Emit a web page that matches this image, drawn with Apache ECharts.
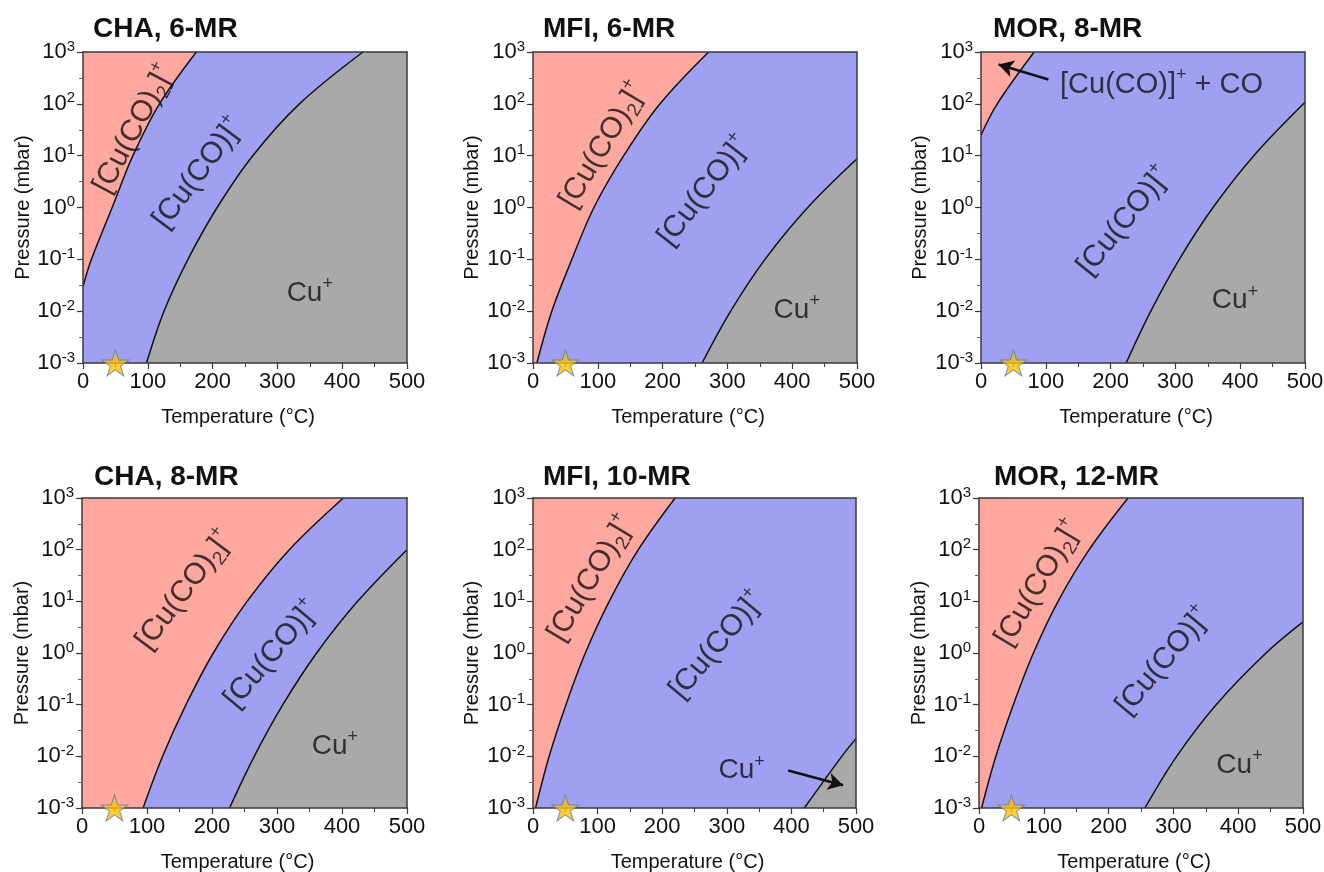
<!DOCTYPE html>
<html>
<head>
<meta charset="utf-8">
<script src="https://cdn.jsdelivr.net/npm/echarts@6/dist/echarts.min.js"></script>
<style>
  html, body { margin: 0; padding: 0; background: #fff; }
  #charts { width: 1324px; height: 872px; }
</style>
</head>
<body>
<div id="charts"></div>
<script>
// panel titles, reading order
const titles = ['CHA, 6-MR', 'MFI, 6-MR', 'MOR, 8-MR', 'CHA, 8-MR', 'MFI, 10-MR', 'MOR, 12-MR'];

// axis ticks
const tempTicks = [0, 100, 200, 300, 400, 500];
const pressureTicks = [0.001, 0.01, 0.1, 1, 10, 100, 1000];

// phase boundaries: [temperature (°C), pressure (mbar)]
// "upper" = [Cu(CO)2]+ / [Cu(CO)]+ , "lower" = [Cu(CO)]+ / Cu+
const cha6Upper = [[0, 0.03], [13, 0.1], [45, 1], [77, 10], [118, 100], [175, 1000]];
const cha6Lower = [[98, 0.001], [125, 0.01], [162, 0.1], [207, 1], [262, 10], [334, 100], [432, 1000]];
const mfi6Upper = [[6, 0.001], [29, 0.01], [60, 0.1], [94, 1], [140, 10], [196, 100], [271, 1000]];
const mfi6Lower = [[261, 0.001], [305, 0.01], [358, 0.1], [424, 1], [500, 8.7]];
const mor8Upper = [[0, 25], [25, 100], [82, 1000]];
const mor8Lower = [[224, 0.001], [262, 0.01], [306, 0.1], [358, 1], [421, 10], [500, 107]];
const cha8Upper = [[94, 0.001], [124, 0.01], [160, 0.1], [202, 1], [254, 10], [319, 100], [402, 1000]];
const cha8Lower = [[227, 0.001], [265, 0.01], [309, 0.1], [361, 1], [424, 10], [500, 100]];
const mfi10Upper = [[4, 0.001], [25, 0.01], [51, 0.1], [81, 1], [118, 10], [163, 100], [220, 1000]];
const mfi10Lower = [[420, 0.001], [478, 0.01], [500, 0.022]];
const mor12Upper = [[4, 0.001], [26, 0.01], [53, 0.1], [84, 1], [122, 10], [170, 100], [230, 1000]];
const mor12Lower = [[256, 0.001], [305, 0.01], [366, 0.1], [443, 1], [500, 4]];

// measurement condition marked with a star
const starPoint = [50, 0.001];

const FONT = '"Liberation Sans", Arial, sans-serif';
const INK = '#111';
const AXIS = '#3a3a3a';
const RED = '#FFA8A0';
const BLUE = '#A0A0F2';
const GRAY = '#A9A9A9';
const T_MIN = 0, T_MAX = 500, P_MIN = 0.001, P_MAX = 1000;

// half-decade minor ticks on the pressure axis
const halfDecades = pressureTicks.slice(1).map((v, k) => Math.sqrt(v * pressureTicks[k]));

const DI = '{n|[Cu(CO)}{sub|2}{n|]}{sup|+}';
const MONO = '{n|[Cu(CO)]}{sup|+}';
const BARE = '{h|Cu}{sup|+}';
const MONO_CO = '{m|[Cu(CO)]}{sup|+}{m| + CO}';

// layout + annotations per panel: [text, anchor, rotation, position]
const panels = [
  { upper: cha6Upper, lower: cha6Lower, box: [83, 52, 324, 311], titleAt: [93, 15], gap: 47,
    notes: [[DI, [79, 33], 62], [MONO, [178, 4.6], 53], [BARE, [350, 0.022], 0]] },
  { upper: mfi6Upper, lower: mfi6Lower, box: [533, 52, 324, 311], titleAt: [543, 15], gap: 51,
    notes: [[DI, [108, 16], 59], [MONO, [264, 2.1], 52], [BARE, [407, 0.0103], 0]] },
  { upper: mor8Upper, lower: mor8Lower, box: [981, 52, 324, 311], titleAt: [993, 15], gap: 51,
    notes: [[MONO_CO, [122, 236], 0, 'right'], [MONO, [221, 0.55], 51], [BARE, [392, 0.016], 0]],
    arrow: [[104, 295], [27, 575]] },
  { upper: cha8Upper, lower: cha8Lower, box: [82, 498, 325, 310], titleAt: [94, 463], gap: 49,
    notes: [[DI, [158, 16.6], 53], [MONO, [292, 0.95], 50], [BARE, [389, 0.016], 0]] },
  { upper: mfi10Upper, lower: mfi10Lower, box: [533, 498, 323, 310], titleAt: [543, 463], gap: 51,
    notes: [[DI, [90, 28], 59], [MONO, [285, 1.43], 50], [BARE, [323, 0.0053], 0]],
    arrow: [[395, 0.0053], [480, 0.00275]] },
  { upper: mor12Upper, lower: mor12Lower, box: [979, 498, 324, 310], titleAt: [994, 463], gap: 49,
    notes: [[DI, [92, 22.5], 59], [MONO, [285, 0.7], 50], [BARE, [402, 0.0067], 0]] }
];

const noteRich = {
  n: { fontSize: 30, lineHeight: 38, color: INK, fontFamily: FONT },
  m: { fontSize: 29, lineHeight: 36, color: INK, fontFamily: FONT },
  h: { fontSize: 28, lineHeight: 36, color: INK, fontFamily: FONT },
  sub: { fontSize: 19, lineHeight: 19, verticalAlign: 'bottom', color: INK, fontFamily: FONT },
  sup: { fontSize: 18, lineHeight: 20, verticalAlign: 'top', color: INK, fontFamily: FONT }
};

const starPath = 'path://M50,0 L61.23,34.55 L97.55,34.55 L68.16,55.9 L79.39,90.45 L50,69.1 L20.61,90.45 L31.84,55.9 L2.45,34.55 L38.77,34.55 Z';

const option = {
  animation: false,
  textStyle: { fontFamily: FONT },
  title: [], grid: [], xAxis: [], yAxis: [], series: []
};

panels.forEach((p, i) => {
  option.title.push({
    text: titles[i], left: p.titleAt[0], top: p.titleAt[1], padding: 0,
    textStyle: { fontSize: 28, fontWeight: 'bold', color: INK, fontFamily: FONT }
  });
  option.grid.push({
    left: p.box[0], top: p.box[1], width: p.box[2], height: p.box[3],
    show: true, backgroundColor: BLUE, borderWidth: 0, outerBoundsMode: 'none'
  });
  option.xAxis.push({
    type: 'value', gridIndex: i, min: T_MIN, max: T_MAX, interval: 100,
    name: 'Temperature (°C)', nameLocation: 'middle', nameGap: 44,
    nameTextStyle: { fontSize: 20, color: INK, padding: [0, 14, 0, 0] },
    axisLine: { show: true, onZero: false, lineStyle: { color: AXIS, width: 1.5 } },
    axisTick: { show: true, length: 6, customValues: tempTicks, lineStyle: { color: AXIS, width: 1.2 } },
    minorTick: { show: true, splitNumber: 2, length: 4, lineStyle: { color: AXIS, width: 1 } },
    splitLine: { show: false },
    axisLabel: { fontSize: 22, color: INK, margin: 8, customValues: tempTicks },
    z: 3
  });
  option.yAxis.push({
    type: 'log', logBase: 10, gridIndex: i, min: P_MIN, max: P_MAX,
    name: 'Pressure (mbar)', nameLocation: 'middle', nameGap: p.gap,
    nameTextStyle: { fontSize: 20, color: INK },
    axisLine: { show: true, onZero: false, lineStyle: { color: AXIS, width: 1.5 } },
    axisTick: { show: true, length: 6, customValues: pressureTicks, lineStyle: { color: AXIS, width: 1.2 } },
    minorTick: { show: false },
    splitLine: { show: false },
    axisLabel: {
      margin: 8, customValues: pressureTicks,
      formatter: v => '{b|10}{e|' + Math.round(Math.log10(v)) + '}',
      rich: {
        b: { fontSize: 22, lineHeight: 26, color: INK, fontFamily: FONT },
        e: { fontSize: 15, lineHeight: 16, verticalAlign: 'top', color: INK, fontFamily: FONT }
      }
    },
    z: 3
  });
});

// frame (top and right edges) and the pressure minor ticks
panels.forEach((p, i) => {
  option.xAxis.push({
    type: 'value', gridIndex: i, position: 'top', min: T_MIN, max: T_MAX,
    axisLine: { show: true, onZero: false, lineStyle: { color: AXIS, width: 1.5 } },
    axisTick: { show: false }, axisLabel: { show: false }, splitLine: { show: false }, z: 3
  });
  option.yAxis.push({
    type: 'log', logBase: 10, gridIndex: i, position: 'right', min: P_MIN, max: P_MAX,
    axisLine: { show: true, onZero: false, lineStyle: { color: AXIS, width: 1.5 } },
    axisTick: { show: false }, axisLabel: { show: false }, splitLine: { show: false }, z: 3
  });
});
panels.forEach((p, i) => {
  option.yAxis.push({
    type: 'log', logBase: 10, gridIndex: i, position: 'left', min: P_MIN, max: P_MAX,
    axisLine: { show: false, onZero: false },
    axisTick: { show: true, length: 4, customValues: halfDecades, lineStyle: { color: '#666', width: 1 } },
    axisLabel: { show: false }, splitLine: { show: false }, z: 3
  });
});

panels.forEach((p, i) => {
  const base = { type: 'line', xAxisIndex: i, yAxisIndex: i, symbol: 'none', silent: true };

  // [Cu(CO)2]+ field: above the upper boundary
  option.series.push(Object.assign({}, base, {
    data: p.upper, smooth: 0.35, z: 2,
    lineStyle: { color: INK, width: 1.5 },
    areaStyle: { color: RED, opacity: 1, origin: 'end' }
  }));
  const first = p.upper[0];
  if (first[0] > T_MIN) {
    option.series.push(Object.assign({}, base, {
      data: [[T_MIN, P_MIN], [first[0], P_MIN]], z: 1,
      lineStyle: { width: 0 }, areaStyle: { color: RED, opacity: 1, origin: 'end' }
    }));
  }

  // Cu+ field: below the lower boundary
  option.series.push(Object.assign({}, base, {
    data: p.lower, smooth: 0.35, z: 2,
    lineStyle: { color: INK, width: 1.5 },
    areaStyle: { color: GRAY, opacity: 1, origin: 'start' }
  }));
  const last = p.lower[p.lower.length - 1];
  if (last[1] >= P_MAX && last[0] < T_MAX) {
    option.series.push(Object.assign({}, base, {
      data: [[last[0], P_MAX], [T_MAX, P_MAX]], z: 1,
      lineStyle: { width: 0 }, areaStyle: { color: GRAY, opacity: 1, origin: 'start' }
    }));
  }

  // field labels (and arrows)
  const labelSeries = {
    type: 'scatter', xAxisIndex: i, yAxisIndex: i, symbolSize: 0, silent: true, z: 4,
    data: p.notes.map(n => ({
      value: n[1],
      label: {
        show: true, formatter: n[0], rotate: n[2],
        position: n[3] || 'inside', distance: 0, rich: noteRich
      }
    }))
  };
  if (p.arrow) {
    labelSeries.markLine = {
      silent: true, animation: false, symbol: ['none', 'arrow'], symbolSize: [13, 15],
      lineStyle: { color: INK, width: 2.5, type: 'solid' },
      label: { show: false },
      data: [[{ coord: p.arrow[0] }, { coord: p.arrow[1] }]]
    };
  }
  option.series.push(labelSeries);

  // star
  option.series.push({
    type: 'scatter', xAxisIndex: i, yAxisIndex: i, silent: true, z: 5, clip: false,
    symbol: starPath, symbolSize: [27, 26],
    itemStyle: { color: '#FFC000', borderColor: '#5B7DB5', borderWidth: 1 },
    data: [starPoint]
  });
});

const chart = echarts.init(document.getElementById('charts'));
chart.setOption(option);
</script>
</body>
</html>
